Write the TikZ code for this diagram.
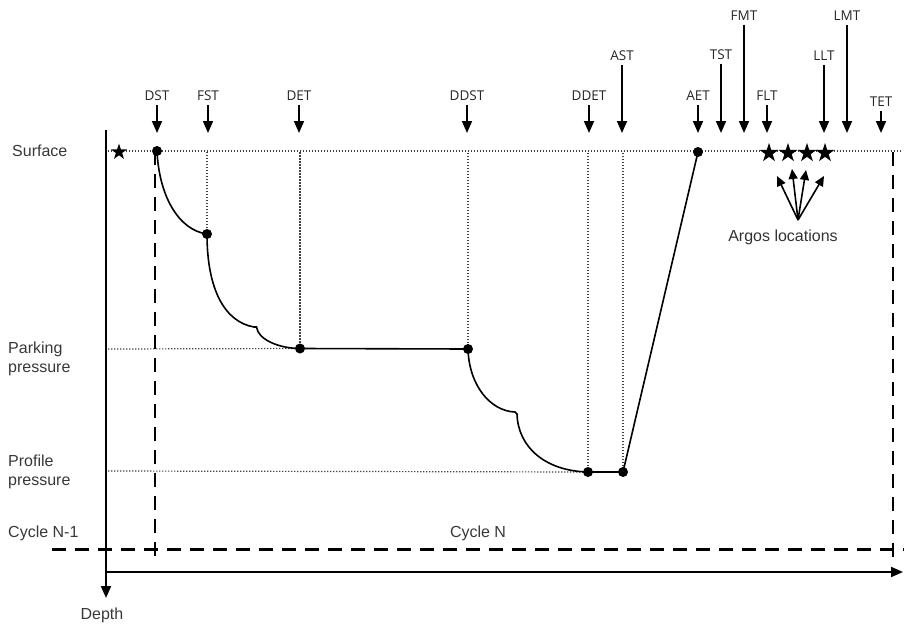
\documentclass[tikz,border=0pt]{standalone}
\usepackage{fontspec}
\setmainfont{Liberation Sans}
\newfontfamily\tagfont{Open Sans}
\usetikzlibrary{arrows.meta,shapes.geometric}
\begin{document}
\begin{tikzpicture}[x=1pt,y=-1pt,
 axis/.style={line width=2pt,-{Triangle[width=10pt,length=12pt]}},
 tick/.style={line width=1.7pt,-{Triangle[width=10pt,length=12pt]}},
 guide/.style={dash pattern=on 1.3pt off 1.7pt, line width=1.2pt, black!75},
 cyc/.style={line width=2.6pt, dash pattern=on 14pt off 9pt},
 prof/.style={line width=1.6pt},
 dot/.style={circle,fill,inner sep=0pt,minimum size=10pt},
 starA/.style={star,star points=5,star point ratio=2.6,fill,inner sep=0pt,minimum size=20pt},
 tag/.style={font=\tagfont\fontsize{13.5}{15}\selectfont,text=black!85,inner sep=1pt,text height=9.5pt,text depth=0pt},
 side/.style={font=\fontsize{16}{19}\selectfont,text=black!78,align=left,inner sep=0pt},
]
\useasboundingbox (0,0) rectangle (904,626);

% axes
\coordinate (origin) at (106,130);
\coordinate (ytip) at (106,598);
\coordinate (xstart) at (106,572);
\coordinate (xtip) at (903,572);
\draw[line width=2pt] (origin) -- (106,572);
\draw[axis] (106,572) -- (ytip);
\draw[axis] (xstart) -- (xtip);

% cycle boundaries
\coordinate (c1top) at (155,151);
\coordinate (c1bot) at (155,562);
\coordinate (c2top) at (893,152);
\coordinate (c2bot) at (893,563);
\coordinate (hl) at (52,549.5);
\coordinate (hr) at (904,549.5);
\draw[cyc] (c1top) -- (c1bot);
\draw[cyc] (c2top) -- (c2bot);
\draw[cyc] (hl) -- (hr);

% profile points
\coordinate (dst) at (157,151);
\coordinate (fst) at (207,234);
\coordinate (k1a) at (254,327);
\coordinate (k1b) at (256.5,327);
\coordinate (det) at (300,348.5);
\coordinate (ddst) at (468,349);
\coordinate (k2a) at (515,412);
\coordinate (k2b) at (517,414);
\coordinate (ddet) at (588,472);
\coordinate (ast) at (623,472);
\coordinate (aet) at (698,152);

% guide lines
\coordinate (sl) at (108,151);
\coordinate (sr) at (902,151);
\coordinate (pl) at (108,349);
\coordinate (prl) at (108,471);
\draw[guide] (sl) -- (sr);
\draw[guide] (pl) -- (det);
\draw[guide] (prl) -- (ddet);
\draw[guide] (fst) -- (fst |- sl);
\draw[guide] (det) -- (det |- sl);
\draw[guide] (ddst) -- (ddst |- sl);
\draw[guide] (ddet) -- (ddet |- sl);
\draw[guide] (ast) -- (ast |- sl);

% profile
\draw[prof] (dst) .. controls (159,195) and (178,230) .. (fst)
  .. controls (207,290) and (225,322) .. (k1a) -- (k1b)
  .. controls (258,340) and (280,348.5) .. (det) -- (ddst)
  .. controls (469,385) and (490,411) .. (k2a) -- (k2b)
  .. controls (518,447) and (545,471) .. (ddet) -- (ast) -- (aet);

\foreach \p in {dst,fst,det,ddst,ddet,ast,aet} \node[dot] at (\p) {};

% stars
\node[starA,minimum size=17pt] (s0) at (119,152) {};
\node[starA] (s1) at (769,153) {};
\node[starA] (s2) at (788,153) {};
\node[starA] (s3) at (807,153) {};
\node[starA] (s4) at (825,153) {};

% Argos
\coordinate (ag) at (798,220);
\coordinate (a1) at (777,176);
\coordinate (a2) at (792,169);
\coordinate (a3) at (806,170);
\coordinate (a4) at (824,176);
\foreach \t in {a1,a2,a3,a4}
  \draw[line width=1.6pt,-{Triangle[width=9pt,length=10pt]}] (ag) -- (\t);
\node[side,text=black!80] (argos) at (783,237) {Argos locations};

% event arrows
\foreach \nm/\x/\y/\txt in {
  dstL/157/105/DST, fstL/208/105/FST, detL/299/105/DET, ddstL/467/105/DDST,
  ddetL/589/105/DDET, astL/622/65/AST, aetL/698/105/AET, tstL/721/64/TST,
  fmtL/744/25/FMT, fltL/767/105/FLT, lltL/824/65/LLT, lmtL/847/25/LMT,
  tetL/881/111/TET}{
  \coordinate (\nm s) at (\x,\y);
  \coordinate (\nm e) at (\x,133);
  \node[tag,above=3pt] (\nm) at (\nm s) {\txt};
  \draw[tick] (\nm s) -- (\nm e);
}

% side labels
\node[side,anchor=west] (surf) at (12,151) {Surface};
\node[side,anchor=west] (park) at (8,358.5) {Parking\\pressure};
\node[side,anchor=west] (profp) at (8,472) {Profile\\pressure};
\node[side,anchor=west] (cn1) at (8,533) {Cycle N-1};
\node[side] (cn) at (478,533) {Cycle N};
\node[side] (depth) at (102,615) {Depth};
\end{tikzpicture}
\end{document}
